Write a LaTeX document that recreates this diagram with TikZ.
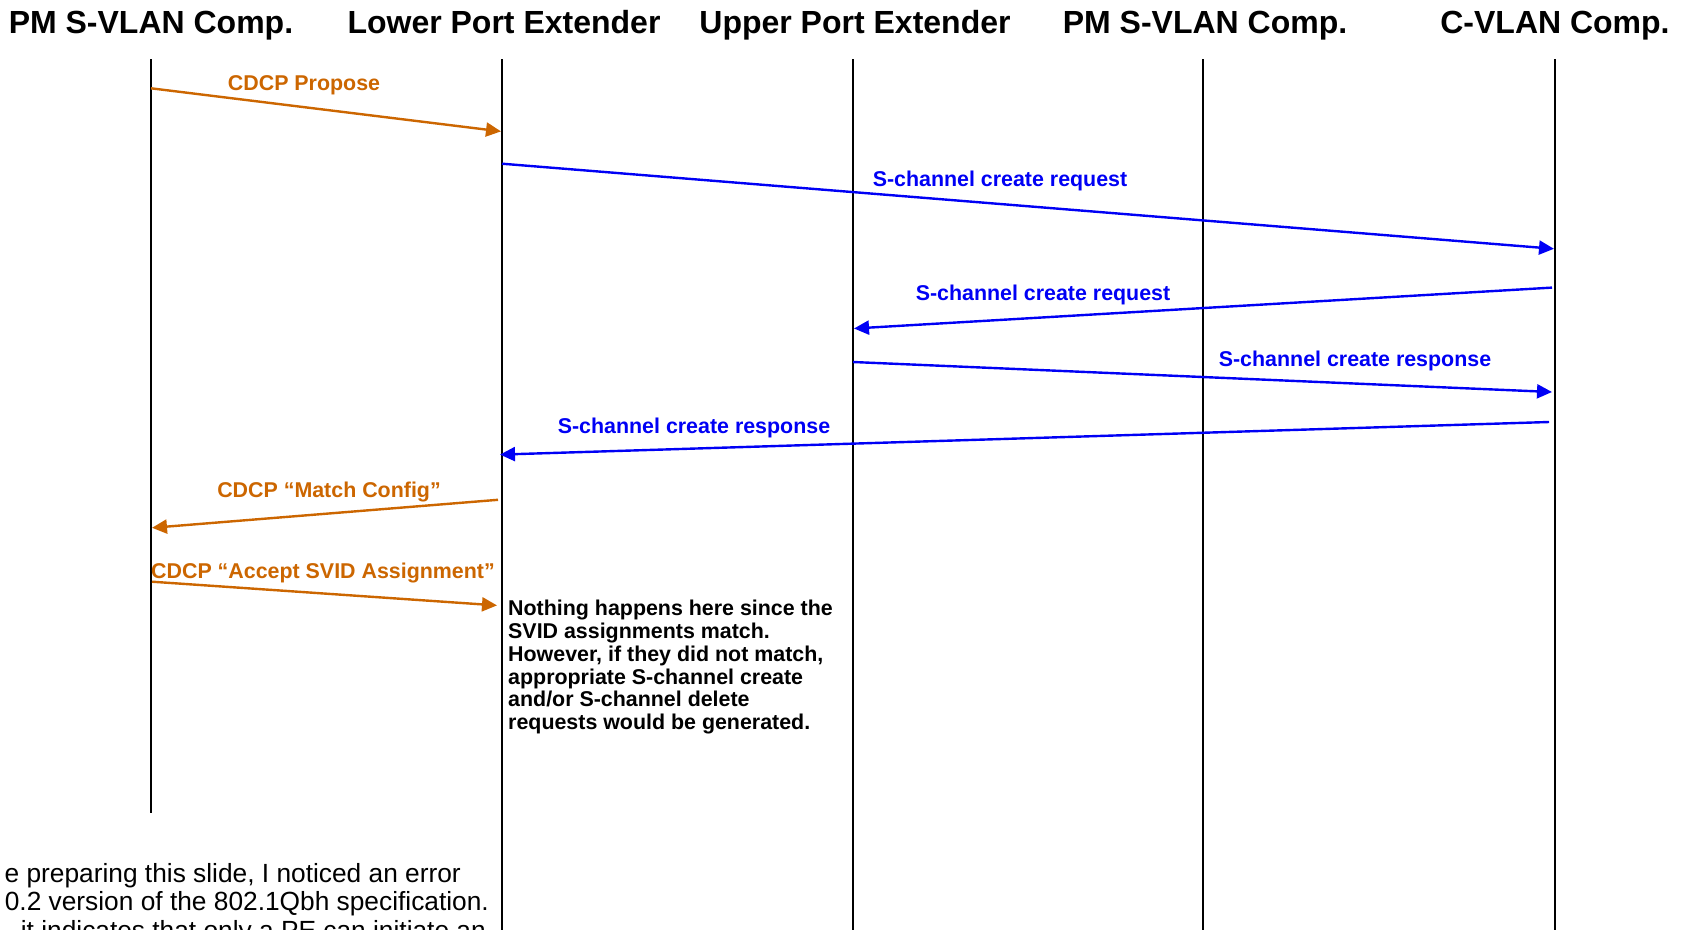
\documentclass[tikz,border=0pt]{standalone}
\usepackage{fontspec}
\setmainfont{Liberation Sans}
\usetikzlibrary{arrows.meta}
\definecolor{cdcp}{RGB}{204,102,0}
\definecolor{schan}{RGB}{0,0,245}
\begin{document}
\begin{tikzpicture}[x=1pt,y=-1pt,
  lifeline/.style={line width=2.5pt,black},
  header/.style={font=\fontsize{32}{34}\selectfont\bfseries,inner sep=0pt,anchor=base},
  msg/.style={line width=2.4pt,-{Triangle[length=15pt,width=14pt]}},
  msgcdcp/.style={msg,cdcp},
  msgblue/.style={msg,schan},
  lbl/.style={font=\fontsize{21.4}{22.8}\selectfont\bfseries,inner sep=0pt,anchor=base},
  note/.style={font=\fontsize{21.4}{22.8}\selectfont\bfseries,inner sep=0pt,align=left,anchor=north west},
  side/.style={font=\fontsize{26.3}{28}\selectfont,inner sep=0pt,anchor=base east}]
\useasboundingbox (0,0) rectangle (1689,929);
\fill[white] (0,0) rectangle (1689,929);
% headers
\node[header] (h1) at (151,33) {PM S-VLAN Comp.};
\node[header] (h2) at (504,33) {Lower Port Extender};
\node[header] (h3) at (855,33) {Upper Port Extender};
\node[header] (h4) at (1205,33) {PM S-VLAN Comp.};
\node[header] (h5) at (1555,33) {C-VLAN Comp.};
% lifelines
\coordinate (t1) at (151,59);  \coordinate (b1) at (151,813);
\coordinate (t2) at (502,59);  \coordinate (b2) at (502,940);
\coordinate (t3) at (853,59);  \coordinate (b3) at (853,940);
\coordinate (t4) at (1203,59); \coordinate (b4) at (1203,940);
\coordinate (t5) at (1555,59); \coordinate (b5) at (1555,940);
\draw[lifeline] (t1) -- (b1);
\draw[lifeline] (t2) -- (b2);
\draw[lifeline] (t3) -- (b3);
\draw[lifeline] (t4) -- (b4);
\draw[lifeline] (t5) -- (b5);
% message end points
\coordinate (m1s) at (151,88.3);  \coordinate (m1e) at (501,131.4);
\coordinate (m2s) at (502,163.7); \coordinate (m2e) at (1554,248.8);
\coordinate (m3s) at (1552,287.6);\coordinate (m3e) at (854,328.5);
\coordinate (m4s) at (853,362);   \coordinate (m4e) at (1552,392);
\coordinate (m5s) at (1549,422);  \coordinate (m5e) at (500,454.6);
\coordinate (m6s) at (498,499.8); \coordinate (m6e) at (152,527.8);
\coordinate (m7s) at (152,581.7); \coordinate (m7e) at (497,605.4);
\draw[msgcdcp] (m1s) -- (m1e);
\draw[msgblue] (m2s) -- (m2e);
\draw[msgblue] (m3s) -- (m3e);
\draw[msgblue] (m4s) -- (m4e);
\draw[msgblue] (m5s) -- (m5e);
\draw[msgcdcp] (m6s) -- (m6e);
\draw[msgcdcp] (m7s) -- (m7e);
% labels
\node[lbl,text=cdcp] (l1) at (304,90.5) {CDCP Propose};
\node[lbl,text=schan] (l2) at (1000,186.3) {S-channel create request};
\node[lbl,text=schan] (l3) at (1043,300.5) {S-channel create request};
\node[lbl,text=schan] (l4) at (1355,366) {S-channel create response};
\node[lbl,text=schan] (l5) at (694,433) {S-channel create response};
\node[lbl,text=cdcp] (l6) at (329,497.5) {CDCP “Match Config”};
\node[lbl,text=cdcp] (l7) at (323,578.5) {CDCP “Accept SVID Assignment”};
% note
\node[note] (nt) at (508,600) {Nothing happens here since the\\SVID assignments match.\\However, if they did not match,\\appropriate S-channel create\\and/or S-channel delete\\requests would be generated.};
% side text (clipped by page, as in the reference)
\node[side] (s1) at (461,882) {e preparing this slide, I noticed an error};
\node[side] (s2) at (489,910.5) {0.2 version of the 802.1Qbh specification.};
\node[side] (s3) at (486,939) {, it indicates that only a PE can initiate an};
\end{tikzpicture}
\end{document}
